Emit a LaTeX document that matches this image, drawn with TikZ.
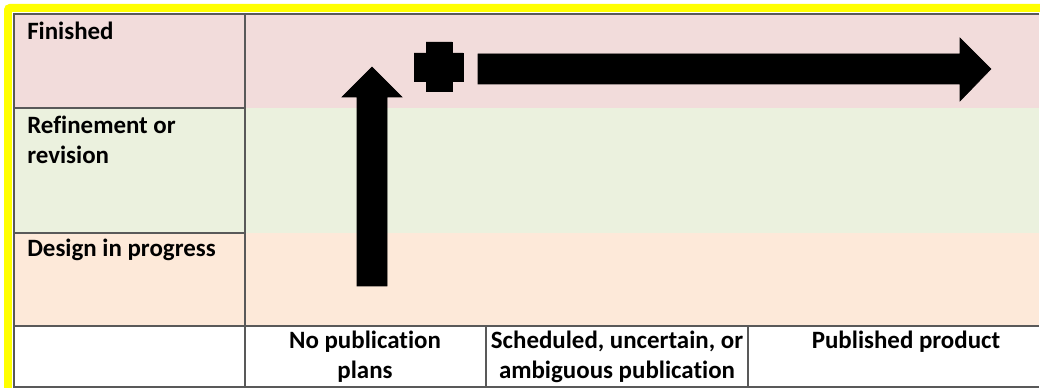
\documentclass[tikz,border=0pt]{standalone}
\usepackage{fontspec}
\setmainfont{Carlito}[Ligatures=NoCommon]
\usetikzlibrary{positioning}

\definecolor{finpink}{RGB}{242,220,219}
\definecolor{refgreen}{RGB}{235,241,222}
\definecolor{despeach}{RGB}{253,233,217}
\definecolor{gridgray}{RGB}{89,89,89}
\definecolor{frameyellow}{RGB}{255,255,0}

\begin{document}
\begin{tikzpicture}[x=0.75pt,y=-0.75pt,
  gridline/.style={gridgray,line width=0.9pt},
  rowlabel/.style={anchor=base west,inner sep=0pt,align=left,font=\bfseries\fontsize{18.7}{22.5}\selectfont},
  collabel/.style={anchor=base,inner sep=0pt,align=center,font=\bfseries\fontsize{18.7}{22.5}\selectfont},
  bigarrow/.style={fill=black,draw=black,line width=0.4pt}]
\useasboundingbox (0,0) rectangle (1040,388);
%\draw[] (0,0) grid[step=50] (1040,388);
\fill[frameyellow,rounded corners=4pt] (4,4) rectangle (1060,400);
\fill[white] (12,12) rectangle (1060,400);
\fill[finpink] (14,14) rectangle (1039,108);
\fill[refgreen] (14,108) rectangle (1039,233);
\fill[despeach] (14,233) rectangle (1039,326);
\draw[gridline] (1039,14) -- (14,14) -- (14,387) -- (1039,387);
\draw[gridline] (14,326) -- (1039,326);
\draw[gridline] (245,14) -- (245,387);
\draw[gridline] (14,108) -- (245,108);
\draw[gridline] (14,233) -- (245,233);
\draw[gridline] (486,326) -- (486,387);
\draw[gridline] (748,326) -- (748,387);
% multi-line labels sit on the baseline of their last line
\node[rowlabel] (fin) at (27,40) {Finished};
\node[rowlabel] (refine) at (27,164) {Refinement or\\revision};
\node[rowlabel] (design) at (27,257) {Design in progress};
\node[collabel] (nopub) at (365,379) {No publication\\plans};
\node[collabel] (sched) at (617,379) {Scheduled, uncertain, or\\ambiguous publication};
\node[collabel] (pub) at (906,349) {Published product};
\fill[bigarrow] (357,286) -- (357,97) -- (342,97) -- (372,67) -- (402,97) -- (387,97) -- (387,286) -- cycle;
\fill[bigarrow] (426,42) -- (452,42) -- (452,53) -- (463,53) -- (463,81) -- (452,81) -- (452,91)
  -- (426,91) -- (426,81) -- (414,81) -- (414,53) -- (426,53) -- cycle;
\fill[bigarrow] (478,54) -- (960,54) -- (960,38) -- (991,69) -- (960,101) -- (960,84) -- (478,84) -- cycle;
\end{tikzpicture}
\end{document}
